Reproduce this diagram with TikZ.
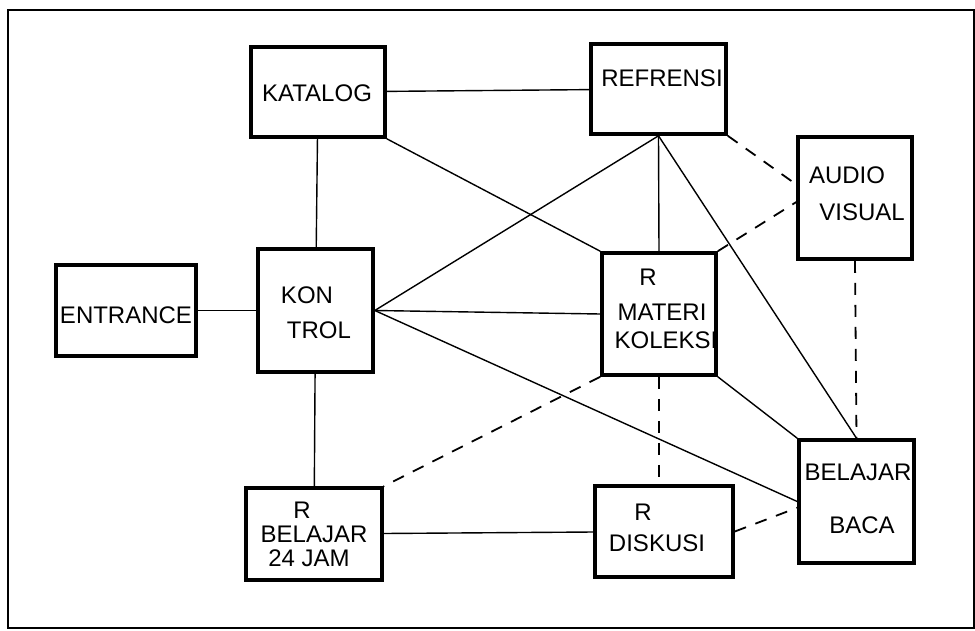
\documentclass[tikz,border=0pt]{standalone}
\usepackage{fontspec}
\setmainfont{Liberation Sans}
\tikzset{
  room/.style={draw, line width=1.8pt, rectangle, inner sep=0pt},
  word/.style={inner sep=0pt, font=\fontsize{12}{14}\selectfont},
  link/.style={line width=0.7pt},
  weak/.style={line width=0.9pt, dash pattern=on 6pt off 5pt}
}
\begin{document}
\begin{tikzpicture}[x=0.5pt,y=-0.5pt]
\useasboundingbox (0,0) rectangle (975,631);
\draw[line width=1.2pt] (8,10) rectangle (974,628);
% rooms
\node[room, minimum width=67pt, minimum height=45pt] (katalog) at (318,92) {};
\node[room, minimum width=67.5pt, minimum height=45pt] (refrensi) at (658.5,89) {};
\node[room, minimum width=57pt, minimum height=61pt] (audio) at (855,198) {};
\node[room, minimum width=70pt, minimum height=45.5pt] (entrance) at (126,310.5) {};
\node[room, minimum width=57.5pt, minimum height=61.5pt] (kontrol) at (315.5,310.5) {};
\node[room, minimum width=57pt, minimum height=61pt] (materi) at (659,314) {};
\node[room, minimum width=68pt, minimum height=46pt] (belajar) at (314,534) {};
\node[room, minimum width=69pt, minimum height=45.5pt] (diskusi) at (664,531.5) {};
\node[room, minimum width=57.5pt, minimum height=61.5pt] (baca) at (856.5,501.5) {};
% texts
\node[word] (katalogT) at (317,93) {KATALOG};
\node[word] (refrensiT) at (662,78) {REFRENSI};
\node[word] (audioA) at (847,175) {AUDIO};
\node[word] (audioB) at (862,212) {VISUAL};
\node[word] (entranceT) at (126,315) {ENTRANCE};
\node[word] (kontrolA) at (307,295) {KON};
\node[word] (kontrolB) at (319,330) {TROL};
\node[word] (materiA) at (648,277) {R};
\node[word] (materiB) at (662,312) {MATERI};
\node[word] (materiC) at (666,340) {KOLEKSI};
\node[word] (belajarA) at (302,510) {R};
\node[word] (belajarB) at (314,534) {BELAJAR};
\node[word] (belajarC) at (309,558) {24 JAM};
\node[word] (diskusiA) at (643,512) {R};
\node[word] (diskusiB) at (657,543) {DISKUSI};
\node[word] (bacaA) at (858,472) {BELAJAR};
\node[word] (bacaB) at (862,525) {BACA};
% solid links
\draw[link] (katalog) -- (refrensi);
\draw[link] (katalog) -- (kontrol);
\draw[link] (katalog.south east) -- (materi.north west);
\draw[link] (entrance) -- (kontrol);
\draw[link] (kontrol.east) -- (refrensi.south);
\draw[link] (kontrol.east) -- (materi.west);
\draw[link] (kontrol.east) -- (baca.west);
\draw[link] (refrensi.south) -- (materi.north);
\draw[link] (refrensi.south) -- (baca.north);
\draw[link] (materi.south east) -- (baca.north west);
\draw[link] (kontrol) -- (belajar);
\draw[link] (belajar) -- (diskusi);
% dashed links
\draw[weak] (refrensi.south east) -- (audio.167);
\draw[weak] (materi.north east) -- (audio.184);
\draw[weak] (audio.south) -- (baca.north);
\draw[weak] (materi.south) -- (materi.south |- diskusi.north);
\draw[weak] (materi.south west) -- (belajar.north east);
\draw[weak] (diskusi.east) -- (baca.186);
\end{tikzpicture}
\end{document}
